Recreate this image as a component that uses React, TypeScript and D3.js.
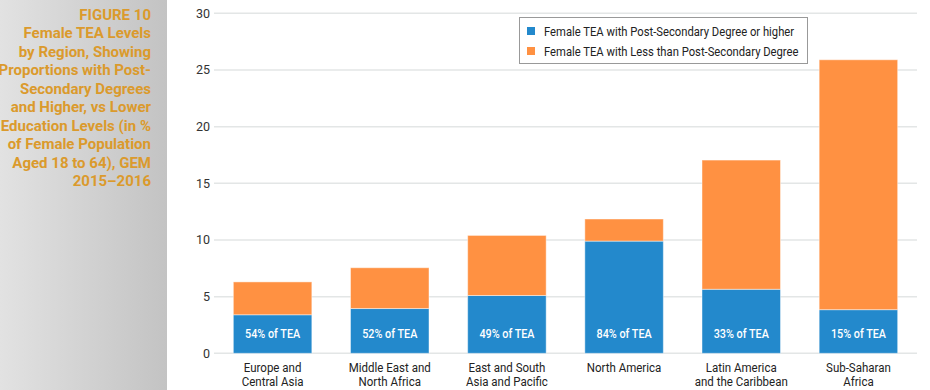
import { useEffect } from 'react';
import * as d3 from 'd3';

const regions = [
  ['Europe and', 'Central Asia'],
  ['Middle East and', 'North Africa'],
  ['East and South', 'Asia and Pacific'],
  ['North America'],
  ['Latin America', 'and the Caribbean'],
  ['Sub-Saharan', 'Africa'],
];
const postSecondary = [3.4, 3.95, 5.1, 9.9, 5.65, 3.85];
const lessThanPostSecondary = [2.9, 3.6, 5.3, 1.95, 11.4, 22.05];
const shareLabels = ['54% of TEA', '52% of TEA', '49% of TEA', '84% of TEA', '33% of TEA', '15% of TEA'];
const yTicks = [0, 5, 10, 15, 20, 25, 30];
const seriesNames = [
  'Female TEA with Post-Secondary Degree or higher',
  'Female TEA with Less than Post-Secondary Degree',
];
const titleLines = [
  'FIGURE 10',
  'Female TEA Levels',
  'by Region, Showing',
  'Proportions with Post-',
  'Secondary Degrees',
  'and Higher, vs Lower',
  'Education Levels (in %',
  'of Female Population',
  'Aged 18 to 64), GEM',
  '2015–2016',
];

const W = 930;
const H = 390;
const BLUE = '#2389CC';
const ORANGE = '#FF9142';
const FONT = 'Roboto, "Liberation Sans", sans-serif';

// condensed look: roboto squeezed horizontally
function Narrow({ x, y, size, children, fill = '#222', anchor = 'middle', weight = 'normal', sx = 0.86 }: any) {
  return (
    <text transform={`translate(${x},${y}) scale(${sx},1)`} textAnchor={anchor}
      fontSize={size} fontWeight={weight} fill={fill}>{children}</text>
  );
}

export default function App() {
  useEffect(() => {
    document.body.style.margin = '0';
  }, []);

  const x = d3.scaleBand<number>()
    .domain(d3.range(regions.length))
    .range([214, 917])
    .paddingInner(0.33)
    .paddingOuter(0.165);
  const y = d3.scaleLinear().domain([0, 30]).range([353.3, 13.3]);
  const cx = (i: number) => (x(i) ?? 0) + x.bandwidth() / 2;

  const stack = d3.stack<number>()
    .keys(['post', 'less'])
    .value((i, key) => (key === 'post' ? postSecondary[i] : lessThanPostSecondary[i]));
  const layers = stack(d3.range(regions.length));
  const colors = [BLUE, ORANGE];

  return (
    <svg width={W} height={H} style={{ display: 'block', fontFamily: FONT }}>
      <defs>
        <linearGradient id="panel" x1="0" x2="1" y1="0" y2="0">
          <stop offset="0%" stopColor="#e2e2e2" />
          <stop offset="100%" stopColor="#c3c3c3" />
        </linearGradient>
      </defs>
      <rect x={0} y={0} width={167} height={H} fill="url(#panel)" />
      {titleLines.map((t, i) => (
        <text key={i} x={151} y={19.5 + i * 18.5} textAnchor="end"
          fontSize={15} fontWeight="bold" fill="#DB9A2C">{t}</text>
      ))}

      {/* grid + y ticks */}
      {yTicks.map(t => (
        <g key={t}>
          <line x1={214} x2={917} y1={y(t)} y2={y(t)} stroke="#E3E6E6" strokeWidth={1.5} />
          <text x={210} y={y(t)} dy="0.35em" textAnchor="end" fontSize={12.5} fill="#333">{t}</text>
        </g>
      ))}

      {/* stacked bars */}
      {layers.map((layer, li) => (
        <g key={li}>
          {layer.map((d, i) => (
            <rect key={i} x={x(i)} width={x.bandwidth()} y={y(d[1])} height={y(d[0]) - y(d[1])}
              fill={colors[li]} stroke="#fff" strokeOpacity={0.45} strokeWidth={1} />
          ))}
        </g>
      ))}

      {shareLabels.map((s, i) => (
        <Narrow key={i} x={cx(i)} y={y(0) - 15} size={12} sx={0.9} weight={500} fill="#fff">{s}</Narrow>
      ))}

      {/* x labels */}
      {regions.map((lines, i) => (
        <g key={i}>
          {lines.map((l, j) => (
            <Narrow key={j} x={cx(i)} y={371.5 + j * 14} size={12.5} sx={0.92} fill="#222">{l}</Narrow>
          ))}
        </g>
      ))}

      {/* legend */}
      <rect x={519.5} y={17.5} width={288} height={46} fill="#fff" stroke="#999" strokeWidth={1} />
      {seriesNames.map((n, i) => (
        <g key={i}>
          <rect x={527} y={27 + i * 20} width={8} height={8} fill={colors[i]} />
          <Narrow x={544} y={35.5 + i * 20} size={12.5} sx={0.9} anchor="start" fill="#222">{n}</Narrow>
        </g>
      ))}
    </svg>
  );
}
